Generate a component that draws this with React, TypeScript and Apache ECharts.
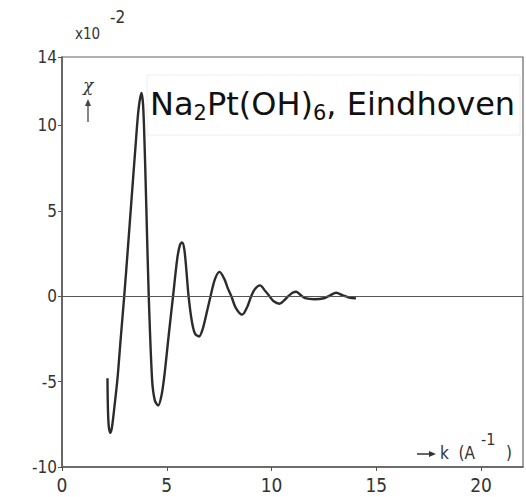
import React, { useEffect, useRef } from "react";
import * as echarts from "echarts";

// EXAFS oscillation chi(k), values in units of 10^-2
const kValues = [
  2.17, 2.19, 2.23, 2.3, 2.38, 2.5, 2.65, 2.8, 2.97, 3.15, 3.32, 3.51, 3.65,
  3.79, 3.87, 3.95, 4.03, 4.14, 4.3, 4.43, 4.59, 4.75, 4.9, 5.1, 5.3, 5.5,
  5.63, 5.73, 5.83, 5.93, 6.04, 6.2, 6.35, 6.54, 6.72, 6.9, 7.09, 7.3, 7.52,
  7.75, 7.9, 8.08, 8.3, 8.6, 8.85, 9.03, 9.2, 9.45, 9.7, 9.9, 10.1, 10.38,
  10.6, 10.8, 11.0, 11.18, 11.4, 11.6, 12.05, 12.5, 12.8, 13.08, 13.4, 13.7,
  14.03,
];
const chiValues = [
  -4.8, -6.5, -7.6, -8.0, -7.7, -6.5, -4.8, -2.5, 0, 2.9, 5.7, 8.8, 10.9,
  11.9, 11.2, 8.5, 4.9, 0, -4.9, -6.1, -6.4, -5.8, -4.5, -2.2, 0, 2.2,
  3.0, 3.15, 2.8, 1.6, 0, -1.5, -2.2, -2.36, -1.9, -1.0, 0, 1.0, 1.42,
  1.0, 0.5, 0, -0.7, -1.08, -0.6, 0, 0.4, 0.63, 0.3, 0, -0.3, -0.44,
  -0.25, 0, 0.2, 0.26, 0.05, -0.12, -0.18, -0.12, 0.05, 0.2, 0.05, -0.08,
  -0.13,
];

const xTicks = { min: 0, max: 22, interval: 5 };
const yTicks = { min: -10, max: 14, interval: 5 };

const TITLE = "{n|Na}{s|2}{n|Pt(OH)}{s|6}{n|, Eindhoven}";

export default function App() {
  const ref = useRef<HTMLDivElement>(null);

  useEffect(() => {
    if (!ref.current) return;
    const chart = echarts.init(ref.current, undefined, { renderer: "svg" });
    const ink = "#333";
    const labelFont = "'DejaVu Sans Condensed', 'DejaVu Sans', sans-serif";
    chart.setOption({
      animation: false,
      backgroundColor: "#fff",
      grid: {
        left: 62,
        right: 3,
        top: 57,
        bottom: 30,
        show: true,
        borderColor: "#666",
        borderWidth: 1.2,
        backgroundColor: "transparent",
      },
      xAxis: {
        type: "value",
        min: xTicks.min,
        max: xTicks.max,
        interval: xTicks.interval,
        axisLine: { show: true, onZero: false, lineStyle: { color: "#555", width: 1.5 } },
        axisTick: { show: true, length: 4, lineStyle: { color: "#555" } },
        axisLabel: {
          color: ink,
          fontSize: 19,
          fontFamily: labelFont,
          margin: 8,
          showMaxLabel: false,
        },
        splitLine: { show: false },
      },
      yAxis: {
        type: "value",
        min: yTicks.min,
        max: yTicks.max,
        interval: yTicks.interval,
        axisLine: { show: true, lineStyle: { color: "#555", width: 1.5 } },
        axisTick: { show: true, length: 4, lineStyle: { color: "#555" } },
        axisLabel: {
          color: ink,
          fontSize: 17,
          fontFamily: labelFont,
          margin: 5,
          formatter: (v: number) => (v < 0 ? "-" + Math.abs(v) : String(v)),
        },
        splitLine: { show: false },
      },
      series: [
        {
          type: "line",
          data: kValues.map((k, i) => [k, chiValues[i]]),
          smooth: 0.3,
          showSymbol: false,
          lineStyle: { color: "#2b2b2b", width: 2.4 },
          markLine: {
            silent: true,
            symbol: "none",
            label: { show: false },
            lineStyle: { color: "#555", width: 1.2, type: "solid" },
            data: [{ yAxis: 0 }],
          },
          z: 3,
        },
      ],
      graphic: [
        // multiplier note
        {
          type: "text",
          left: 75,
          top: 26,
          style: { text: "x10", fontSize: 15, fontFamily: labelFont, fill: ink },
        },
        {
          type: "text",
          left: 110,
          top: 8,
          style: { text: "-2", fontSize: 17, fontFamily: labelFont, fill: ink },
        },
        // chi label with upward arrow
        {
          type: "text",
          left: 83,
          top: 76,
          style: {
            text: "χ",
            fontSize: 17,
            fontStyle: "italic",
            fontFamily: "'DejaVu Serif', serif",
            fill: ink,
          },
        },
        {
          type: "line",
          shape: { x1: 88, y1: 104, x2: 88, y2: 122 },
          style: { stroke: "#444", lineWidth: 1.3 },
        },
        {
          type: "polygon",
          shape: { points: [[85, 106], [91, 106], [88, 99]] },
          style: { fill: "#444" },
        },
        // k axis label
        {
          type: "line",
          shape: { x1: 417, y1: 454, x2: 432, y2: 454 },
          style: { stroke: "#333", lineWidth: 1.5 },
        },
        {
          type: "polygon",
          shape: { points: [[429, 451], [429, 457], [436, 454]] },
          style: { fill: "#333" },
        },
        {
          type: "text",
          left: 440,
          top: 444,
          style: { text: "k  (A", fontSize: 17, fontFamily: labelFont, fill: ink },
        },
        {
          type: "text",
          left: 481,
          top: 431,
          style: { text: "-1", fontSize: 16, fontFamily: labelFont, fill: ink },
        },
        {
          type: "text",
          left: 506,
          top: 444,
          style: { text: ")", fontSize: 17, fontFamily: labelFont, fill: ink },
        },
        // compound title on a white panel
        {
          type: "rect",
          shape: { x: 147, y: 75, width: 373, height: 60 },
          style: { fill: "#fff", stroke: "#eee", lineWidth: 1 },
          z: 10,
        },
        {
          type: "text",
          left: 150,
          top: 88,
          z: 11,
          style: {
            text: TITLE,
            fill: "#111",
            fontFamily: "'DejaVu Sans', sans-serif",
            rich: {
              n: {
                fontSize: 32,
                fontFamily: "'DejaVu Sans', sans-serif",
                lineHeight: 38,
                verticalAlign: "middle",
                fill: "#111",
              },
              s: {
                fontSize: 21,
                fontFamily: "'DejaVu Sans', sans-serif",
                lineHeight: 20,
                verticalAlign: "bottom",
                fill: "#111",
              },
            },
          },
        },
      ],
    });
    return () => chart.dispose();
  }, []);

  return <div ref={ref} style={{ width: 526, height: 497, position: "absolute", left: 0, top: 0 }} />;
}
